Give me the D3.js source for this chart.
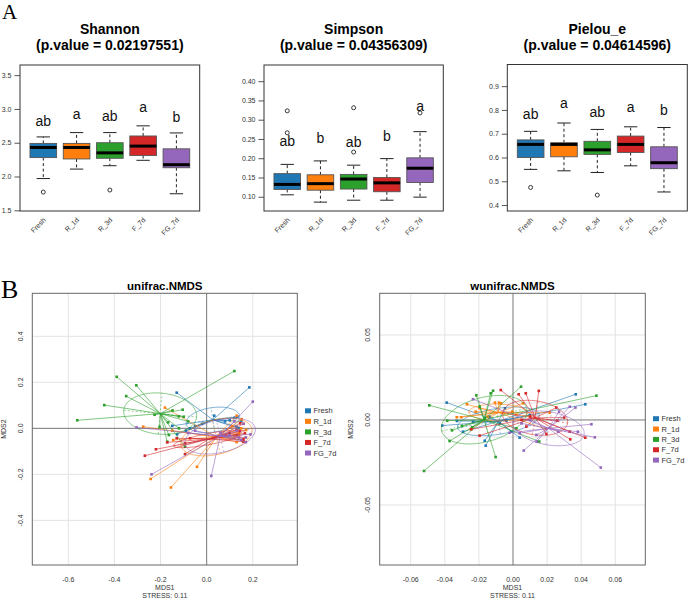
<!DOCTYPE html>
<html>
<head>
<meta charset="utf-8">
<script src="https://cdn.jsdelivr.net/npm/d3@7"></script>
<style>
  body { margin: 0; background: #fff; }
  svg  { display: block; font-family: "Liberation Sans", Arial, sans-serif; }
</style>
</head>
<body>
<svg id="chart" width="688" height="598"></svg>
<script>
// ── DATA ───────────────────────────────────────────────────────────────────
const groups      = ['Fresh', 'R_1d', 'R_3d', 'F_7d', 'FG_7d'];
const groupColors = ['#1f77b4', '#ff7f0e', '#2ca02c', '#d62728', '#9467bd'];

// boxplot stats per group: lower whisker, Q1, median, Q3, upper whisker, outliers
const shannonLo  = [1.97, 2.11, 2.16, 2.24, 1.745];
const shannonQ1  = [2.28, 2.26, 2.27, 2.31, 2.13];
const shannonMed = [2.43, 2.43, 2.35, 2.45, 2.175];
const shannonQ3  = [2.49, 2.49, 2.50, 2.60, 2.41];
const shannonHi  = [2.586, 2.65, 2.65, 2.75, 2.645];
const shannonOut = [[1.77], [], [1.80], [], []];
const shannonLetters = ['ab', 'a', 'ab', 'a', 'b'];

const simpsonLo  = [0.105, 0.086, 0.091, 0.091, 0.099];
const simpsonQ1  = [0.119, 0.117, 0.120, 0.113, 0.137];
const simpsonMed = [0.132, 0.134, 0.146, 0.136, 0.174];
const simpsonQ3  = [0.160, 0.157, 0.158, 0.150, 0.201];
const simpsonHi  = [0.184, 0.193, 0.182, 0.199, 0.269];
const simpsonOut = [[0.323, 0.266], [], [0.331, 0.216], [], [0.3175]];
const simpsonLetters = ['ab', 'b', 'ab', 'b', 'a'];

const pielouLo  = [0.550, 0.544, 0.537, 0.565, 0.455];
const pielouQ1  = [0.600, 0.603, 0.613, 0.621, 0.553];
const pielouMed = [0.655, 0.655, 0.632, 0.655, 0.578];
const pielouQ3  = [0.674, 0.662, 0.668, 0.690, 0.645];
const pielouHi  = [0.710, 0.745, 0.718, 0.729, 0.726];
const pielouOut = [[0.474], [], [0.442], [], []];
const pielouLetters = ['ab', 'a', 'ab', 'a', 'b'];

// NMDS site scores [MDS1, MDS2] per group
const unifracFresh = [[-0.130,0.155],[0.185,0.178],[0.033,0.055],[-0.149,0.011],[-0.128,-0.026],[-0.072,0.0],[0.130,0.007],[0.133,0.050],[-0.090,-0.010],[-0.050,0.010],[0.100,0.035],[0.120,0.045],[0.140,0.000],[0.080,0.030],[-0.020,0.020],[0.150,0.030]];
const unifracR1d   = [[-0.181,0.090],[-0.275,0.007],[-0.243,-0.220],[-0.155,-0.257],[-0.042,-0.167],[-0.149,-0.010],[0.152,0.040],[0.171,-0.007],[0.152,-0.051],[-0.145,-0.051],[0.130,0.055],[0.160,0.020],[0.140,-0.030],[0.120,-0.040],[0.100,-0.020],[0.170,-0.040],[0.150,0.000],[0.160,-0.050],[0.130,-0.060],[0.110,0.010],[0.140,-0.020],[0.120,-0.030]];
const unifracR3d   = [[-0.561,0.035],[-0.444,0.101],[-0.390,0.224],[-0.349,0.140],[-0.305,0.187],[-0.226,0.059],[-0.164,-0.029],[-0.171,-0.058],[-0.148,0.078],[-0.104,0.081],[-0.121,0.052],[-0.204,0.006],[0.120,0.249],[-0.167,0.026],[-0.094,-0.080],[-0.100,0.050],[-0.080,0.030],[-0.120,0.000]];
const unifracF7d   = [[-0.268,-0.119],[-0.220,-0.091],[-0.094,-0.112],[-0.171,-0.061],[-0.130,-0.043],[-0.094,-0.065],[-0.072,-0.043],[0.144,-0.012],[0.159,-0.048],[0.130,-0.030],[0.166,-0.022],[0.145,0.022],[0.159,-0.058],[0.130,-0.007],[0.100,-0.020],[0.080,-0.030]];
const unifracFG7d  = [[-0.239,-0.200],[0.020,-0.207],[0.200,0.116],[-0.304,0.004],[0.190,-0.026],[0.170,-0.040],[0.150,-0.050],[0.130,-0.010],[0.160,0.020],[0.100,-0.030],[0.060,-0.020],[-0.050,-0.010],[-0.080,-0.020],[0.120,0.030],[0.140,-0.040],[0.170,-0.060]];

const wunifracFresh = [[-0.0389,0.0102],[-0.0415,-0.0033],[-0.0329,-0.0006],[-0.0293,-0.0069],[-0.0166,-0.0122],[-0.0160,-0.0151],[0.0039,-0.0104],[0.0368,0.0151],[0.0424,0.0092],[-0.0010,-0.0069],[-0.0039,-0.0004],[-0.0078,-0.0020],[-0.0235,-0.0010],[-0.0137,0.0019],[0.0098,0.0029],[-0.0047,0.0069]];
const wunifracR1d   = [[-0.0270,0.0092],[-0.0303,0.0016],[-0.0196,0.0069],[-0.0082,0.0102],[0.0059,0.0098],[0.0215,0.0043],[0.0192,-0.0053],[-0.0248,-0.0053],[-0.0219,0.0049],[-0.0004,0.0049],[-0.0106,0.0102],[-0.0070,0.0098],[-0.0330,0.0016],[0.0100,0.0020],[0.0020,0.0030],[-0.0150,0.0020]];
const wunifracR3d   = [[-0.0522,-0.0300],[-0.0491,0.0086],[-0.0372,-0.0124],[-0.0358,-0.0061],[-0.0386,-0.0004],[-0.0215,0.0145],[-0.0131,0.0157],[-0.0117,0.0172],[-0.0102,-0.0218],[0.0047,0.0196],[0.0154,-0.0127],[0.0489,0.0143],[-0.0300,-0.0035],[-0.0239,-0.0043],[-0.0166,0.0010],[-0.0196,0.0078],[0.0020,-0.0049]];
const wunifracF7d   = [[-0.0072,0.0176],[0.0033,0.0151],[0.0075,0.0157],[0.0151,0.0171],[-0.0196,-0.0092],[-0.0245,-0.0055],[0.0254,0.0073],[0.0300,0.0014],[0.0260,-0.0004],[0.0333,-0.0069],[0.0336,-0.0114],[0.0424,-0.0104],[0.0196,-0.0082],[0.0078,-0.0039],[0.0100,0.0020],[0.0050,0.0000]];
const wunifracFG7d  = [[-0.0235,0.0122],[0.0515,-0.0280],[0.0480,-0.0102],[0.0460,-0.0025],[0.0381,-0.0069],[0.0366,0.0073],[0.0333,0.0078],[0.0270,0.0049],[0.0063,-0.0180],[0.0137,-0.0088],[0.0039,-0.0078],[-0.0020,-0.0075],[0.0266,-0.0069],[0.0139,-0.0127],[0.0100,0.0000],[0.0050,-0.0020]];

const svg = d3.select('#chart');
const minus = s => s.replace('\u2212', '-');

// ── PANEL LETTERS ──────────────────────────────────────────────────────────
svg.append('text').attr('x', 2).attr('y', 19).attr('font-family', '"Liberation Serif", "Times New Roman", serif')
  .attr('font-size', 21).text('A');
svg.append('text').attr('x', 1).attr('y', 297.5).attr('font-family', '"Liberation Serif", "Times New Roman", serif')
  .attr('font-size', 26).text('B');

// ── BOXPLOTS ───────────────────────────────────────────────────────────────
function boxPanel(p) {
  const x = d3.scaleLinear().domain([0.3, 5.7]).range([p.x0, p.x1]);
  const y = d3.scaleLinear().domain(p.domain).range([p.y1, p.y0]);
  const g = svg.append('g');
  const cx = (p.x0 + p.x1) / 2;

  g.append('text').attr('x', cx).attr('y', 34.3).attr('text-anchor', 'middle')
    .attr('font-weight', 'bold').attr('font-size', 14).text(p.title);
  g.append('text').attr('x', cx).attr('y', 49.7).attr('text-anchor', 'middle')
    .attr('font-weight', 'bold').attr('font-size', 14).text(`(p.value = ${p.pval})`);

  const ax = g.append('g').attr('transform', `translate(${p.x0},0)`)
    .call(d3.axisLeft(y).tickValues(p.ticks).tickFormat(d => d.toFixed(p.digits)).tickSize(5.5).tickPadding(3));
  ax.select('.domain').remove();
  ax.selectAll('line').attr('stroke', '#555');
  ax.selectAll('text').attr('font-size', 7).attr('fill', '#333').attr('font-family', '"Liberation Sans", Arial, sans-serif');

  const half = x(1.4) - x(1), cap = x(1.2) - x(1);
  groups.forEach((name, i) => {
    const c = x(i + 1);
    // whiskers
    [[p.q3[i], p.hi[i]], [p.q1[i], p.lo[i]]].forEach(([a, b]) => {
      g.append('line').attr('x1', c).attr('x2', c).attr('y1', y(a)).attr('y2', y(b))
        .attr('stroke', '#222').attr('stroke-dasharray', '3,2.5');
      g.append('line').attr('x1', c - cap).attr('x2', c + cap).attr('y1', y(b)).attr('y2', y(b))
        .attr('stroke', '#222');
    });
    g.append('rect').attr('x', c - half).attr('width', 2 * half)
      .attr('y', y(p.q3[i])).attr('height', y(p.q1[i]) - y(p.q3[i]))
      .attr('fill', groupColors[i]).attr('stroke', '#555').attr('stroke-width', 0.9);
    g.append('line').attr('x1', c - half).attr('x2', c + half).attr('y1', y(p.med[i])).attr('y2', y(p.med[i]))
      .attr('stroke', '#000').attr('stroke-width', 3);
    p.out[i].forEach(v => {
      g.append('circle').attr('cx', c).attr('cy', y(v)).attr('r', 2)
        .attr('fill', 'none').attr('stroke', '#222').attr('stroke-width', 0.9);
    });
    const tall = /[bdfhklt]/.test(p.letters[i]);
    g.append('text').attr('x', c).attr('y', y(p.hi[i] + p.gap) - (tall ? 0 : 2.5))
      .attr('text-anchor', 'middle').attr('font-size', 14).attr('fill', '#111').text(p.letters[i]);
    g.append('text').attr('transform', `translate(${c + 3},${p.y1 + 9.5}) rotate(-45)`)
      .attr('text-anchor', 'end').attr('font-size', 7).attr('fill', '#333').text(name);
  });

  g.append('rect').attr('x', p.x0).attr('y', p.y0).attr('width', p.x1 - p.x0).attr('height', p.y1 - p.y0)
    .attr('fill', 'none').attr('stroke', '#333').attr('stroke-width', 1);
}

boxPanel({ title: 'Shannon', pval: '0.02197551', x0: 20, x1: 199.7, y0: 65, y1: 211,
  domain: [1.49, 3.65], ticks: [1.5, 2, 2.5, 3, 3.5], digits: 1, gap: 0.165,
  lo: shannonLo, q1: shannonQ1, med: shannonMed, q3: shannonQ3, hi: shannonHi, out: shannonOut, letters: shannonLetters });
boxPanel({ title: 'Simpson', pval: '0.04356309', x0: 264, x1: 443.3, y0: 65, y1: 211,
  domain: [0.063, 0.442], ticks: [0.10, 0.15, 0.20, 0.25, 0.30, 0.35, 0.40], digits: 2, gap: 0.047,
  lo: simpsonLo, q1: simpsonQ1, med: simpsonMed, q3: simpsonQ3, hi: simpsonHi, out: simpsonOut, letters: simpsonLetters });
boxPanel({ title: 'Pielou_e', pval: '0.04614596', x0: 507.3, x1: 687.3, y0: 64.5, y1: 211,
  domain: [0.375, 0.991], ticks: [0.4, 0.5, 0.6, 0.7, 0.8, 0.9], digits: 1, gap: 0.051,
  lo: pielouLo, q1: pielouQ1, med: pielouMed, q3: pielouQ3, hi: pielouHi, out: pielouOut, letters: pielouLetters });

// ── NMDS ───────────────────────────────────────────────────────────────────
function covEllipse(pts) {
  const mx = d3.mean(pts, d => d[0]), my = d3.mean(pts, d => d[1]);
  const n = pts.length;
  const a = d3.sum(pts, d => (d[0] - mx) ** 2) / (n - 1);
  const c = d3.sum(pts, d => (d[1] - my) ** 2) / (n - 1);
  const b = d3.sum(pts, d => (d[0] - mx) * (d[1] - my)) / (n - 1);
  const m = (a + c) / 2, r = Math.sqrt(((a - c) / 2) ** 2 + b * b);
  return { mx, my, r1: Math.sqrt(m + r), r2: Math.sqrt(Math.max(m - r, 0)), th: 0.5 * Math.atan2(2 * b, a - c) };
}

function nmdsPanel(p) {
  const x = d3.scaleLinear().domain(p.xdom).range([p.x0, p.x1]);
  const y = d3.scaleLinear().domain(p.ydom).range([p.y1, p.y0]);
  const g = svg.append('g');
  const cx = (p.x0 + p.x1) / 2, cy = (p.y0 + p.y1) / 2;

  g.append('text').attr('x', cx).attr('y', 290).attr('text-anchor', 'middle')
    .attr('font-weight', 'bold').attr('font-size', 11.5).text(p.title);

  g.selectAll('.gx').data(p.xgrid).enter().append('line')
    .attr('x1', d => x(d)).attr('x2', d => x(d)).attr('y1', p.y0).attr('y2', p.y1)
    .attr('stroke', '#e3e3e3').attr('stroke-width', 1);
  g.selectAll('.gy').data(p.ygrid).enter().append('line')
    .attr('y1', d => y(d)).attr('y2', d => y(d)).attr('x1', p.x0).attr('x2', p.x1)
    .attr('stroke', '#e3e3e3').attr('stroke-width', 1);
  g.append('line').attr('x1', x(0)).attr('x2', x(0)).attr('y1', p.y0).attr('y2', p.y1).attr('stroke', '#777');
  g.append('line').attr('y1', y(0)).attr('y2', y(0)).attr('x1', p.x0).attr('x2', p.x1).attr('stroke', '#777');

  p.data.forEach((pts, i) => {
    const col = groupColors[i];
    const e = covEllipse(pts);
    const gg = g.append('g');
    gg.selectAll('.sp').data(pts).enter().append('line')
      .attr('x1', x(e.mx)).attr('y1', y(e.my)).attr('x2', d => x(d[0])).attr('y2', d => y(d[1]))
      .attr('stroke', col).attr('stroke-width', 0.8).attr('stroke-opacity', 0.75);
    const ts = d3.range(0, 101).map(k => k / 100 * 2 * Math.PI);
    const ell = ts.map(t => {
      const u = e.r1 * Math.cos(t), v = e.r2 * Math.sin(t);
      return [e.mx + u * Math.cos(e.th) - v * Math.sin(e.th), e.my + u * Math.sin(e.th) + v * Math.cos(e.th)];
    });
    gg.append('path').attr('d', d3.line().x(d => x(d[0])).y(d => y(d[1]))(ell))
      .attr('fill', 'none').attr('stroke', col).attr('stroke-width', 0.8).attr('stroke-opacity', 0.7);
    [[e.r1, e.th], [e.r2, e.th + Math.PI / 2]].forEach(([rr, th]) => {
      gg.append('line')
        .attr('x1', x(e.mx - rr * Math.cos(th))).attr('y1', y(e.my - rr * Math.sin(th)))
        .attr('x2', x(e.mx + rr * Math.cos(th))).attr('y2', y(e.my + rr * Math.sin(th)))
        .attr('stroke', col).attr('stroke-width', 0.7).attr('stroke-opacity', 0.7).attr('stroke-dasharray', '2,2');
    });
    gg.selectAll('.pt').data(pts).enter().append('rect')
      .attr('x', d => x(d[0]) - 1.3).attr('y', d => y(d[1]) - 1.3).attr('width', 2.6).attr('height', 2.6)
      .attr('fill', col);
  });

  g.append('rect').attr('x', p.x0).attr('y', p.y0).attr('width', p.x1 - p.x0).attr('height', p.y1 - p.y0)
    .attr('fill', 'none').attr('stroke', '#666').attr('stroke-width', 1);

  // tick labels
  g.selectAll('.tx').data(p.xticks).enter().append('text')
    .attr('x', d => x(d)).attr('y', 581.5).attr('text-anchor', 'middle')
    .attr('font-size', 7).attr('fill', '#333').text(d => d.toFixed(p.digits));
  g.selectAll('.ty').data(p.yticks).enter().append('text')
    .attr('transform', d => `translate(${p.x0 - 9.5},${y(d)}) rotate(-90)`).attr('text-anchor', 'middle')
    .attr('font-size', 7).attr('fill', '#333').text(d => d.toFixed(p.digits));
  g.append('text').attr('x', cx).attr('y', 590).attr('text-anchor', 'middle')
    .attr('font-size', 7).attr('fill', '#333').text('MDS1');
  g.append('text').attr('x', cx).attr('y', 598).attr('text-anchor', 'middle')
    .attr('font-size', 7).attr('fill', '#333').text('STRESS: 0.11');
  g.append('text').attr('transform', `translate(${p.x0 - 26.5},${cy}) rotate(-90)`).attr('text-anchor', 'middle')
    .attr('font-size', 7).attr('fill', '#333').text('MDS2');

  // legend
  groups.forEach((name, i) => {
    const ly = p.ly + i * p.lstep;
    g.append('rect').attr('x', p.lx).attr('y', ly - 2.5).attr('width', 6).attr('height', 5).attr('fill', groupColors[i]);
    g.append('text').attr('x', p.lx + 8.5).attr('y', ly + 2.6).attr('font-size', 7.5).attr('fill', '#333').text(name);
  });
}

nmdsPanel({ title: 'unifrac.NMDS', x0: 32.3, x1: 297.3, y0: 293.3, y1: 565,
  xdom: [-0.756, 0.393], ydom: [-0.594, 0.587],
  xticks: [-0.6, -0.4, -0.2, 0, 0.2], yticks: [-0.4, -0.2, 0, 0.2, 0.4], digits: 1,
  xgrid: [-0.6, -0.4, -0.2, 0.2], ygrid: [-0.4, -0.2, 0.2, 0.4],
  data: [unifracFresh, unifracR1d, unifracR3d, unifracF7d, unifracFG7d],
  lx: 305, ly: 410.8, lstep: 10.55 });

nmdsPanel({ title: 'wunifrac.NMDS', x0: 379.7, x1: 645.3, y0: 293.3, y1: 565,
  xdom: [-0.0782, 0.0776], ydom: [-0.0853, 0.0745],
  xticks: [-0.06, -0.04, -0.02, 0, 0.02, 0.04, 0.06], yticks: [-0.05, 0, 0.05], digits: 2,
  xgrid: [-0.06, -0.04, -0.02, 0.02, 0.04, 0.06], ygrid: [-0.05, -0.03, -0.01, 0.01, 0.03, 0.05],
  data: [wunifracFresh, wunifracR1d, wunifracR3d, wunifracF7d, wunifracFG7d],
  lx: 653, ly: 418.7, lstep: 10.35 });
</script>
</body>
</html>
